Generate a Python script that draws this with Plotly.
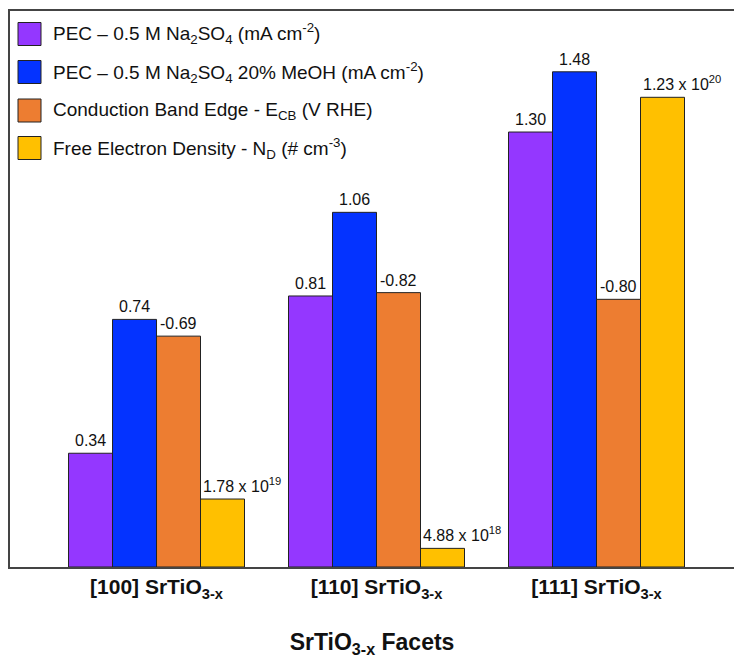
import plotly.graph_objects as go

# Facet categories and measured quantities
facets = ["[100] SrTiO<sub>3-x</sub>", "[110] SrTiO<sub>3-x</sub>", "[111] SrTiO<sub>3-x</sub>"]
pec_na2so4 = [0.34, 0.81, 1.30]          # mA cm-2
pec_meoh = [0.74, 1.06, 1.48]            # mA cm-2
cb_edge = [-0.69, -0.82, -0.80]          # V RHE
electron_density = [1.78e19, 4.88e18, 1.23e20]  # cm-3

series_names = [
    "PEC \u2013 0.5 M Na<sub>2</sub>SO<sub>4</sub> (mA cm<sup>-2</sup>)",
    "PEC \u2013 0.5 M Na<sub>2</sub>SO<sub>4</sub> 20% MeOH (mA cm<sup>-2</sup>)",
    "Conduction Band Edge - E<sub>CB</sub> (V RHE)",
    "Free Electron Density - N<sub>D</sub> (# cm<sup>-3</sup>)",
]
colors = ["#9437FF", "#0433FF", "#ED7D31", "#FFC000"]

W, H = 734, 658
L, R, T, B = 10, 0, 11, 91
PW, PH = W - L - R, H - T - B

def px(x):
    return (x - L) / PW

def py(y):
    return (H - B - y) / PH

Y_TOP = 1.6617
ND_TOP = 1.456e20

fig = go.Figure()
trace_specs = [
    (pec_na2so4, "y"),
    (pec_meoh, "y"),
    (cb_edge, "y3"),
    (electron_density, "y2"),
]
for k, (vals, yax) in enumerate(trace_specs):
    fig.add_trace(go.Bar(
        x=facets, y=vals, name=series_names[k], yaxis=yax,
        offsetgroup=str(k + 1),
        marker=dict(color=colors[k], line=dict(color="#222222", width=1)),
        showlegend=False,
    ))

def fmt_sci(v):
    exp = len(str(int(v))) - 1
    mant = v / 10 ** exp
    return f"{mant:.2f} x 10<sup>{exp}</sup>"

annotations = []
label_font = dict(family="Liberation Sans, Arial, sans-serif", size=16, color="#111111")
offsets = [-0.3, -0.1, 0.1, 0.3]
for i in range(len(facets)):
    for k, (vals, yax) in enumerate(trace_specs):
        v = vals[i]
        if k == 3:
            annotations.append(dict(
                x=i + 0.2, y=v, xref="x", yref=yax, text=fmt_sci(v),
                xanchor="left", yanchor="bottom", showarrow=False,
                font=label_font, xshift=0, yshift=2,
            ))
        else:
            annotations.append(dict(
                x=i + offsets[k], y=v, xref="x", yref=yax, text=f"{v:.2f}",
                xanchor="center", yanchor="bottom", showarrow=False,
                font=label_font, yshift=2,
            ))

# Legend drawn as swatches plus text in the upper-left corner
shapes = []
legend_font = dict(family="Liberation Sans, Arial, sans-serif", size=19, color="#111111")
row_y = [34, 72, 110.5, 148]
for k, cy in enumerate(row_y):
    shapes.append(dict(
        type="rect", xref="paper", yref="paper",
        x0=px(18), x1=px(41), y0=py(cy + 11.5), y1=py(cy - 11.5),
        fillcolor=colors[k], line=dict(color="#222222", width=1),
    ))
    annotations.append(dict(
        x=px(51), y=py(cy), xref="paper", yref="paper", text=series_names[k],
        xanchor="left", yanchor="middle", showarrow=False, font=legend_font,
    ))

fig.update_layout(
    width=W, height=H,
    margin=dict(l=L, r=R, t=T, b=B),
    paper_bgcolor="white", plot_bgcolor="white",
    barmode="group", bargap=0.2, bargroupgap=0,
    font=dict(family="Liberation Sans, Arial, sans-serif", color="#111111"),
    xaxis=dict(
        type="category", range=[-0.666, 2.625],
        showline=True, linecolor="#444444", linewidth=2, mirror=True,
        showgrid=False, ticks="",
        tickfont=dict(size=21, color="#111111", family="Liberation Sans, Arial, sans-serif", weight="bold"),
        title=dict(text="<b>SrTiO<sub>3-x</sub> Facets</b>", standoff=36,
                   font=dict(size=23, color="#111111")),
    ),
    yaxis=dict(range=[0, Y_TOP], showline=True, linecolor="#444444", linewidth=2,
               showgrid=False, showticklabels=False, ticks="", zeroline=False),
    yaxis2=dict(range=[0, ND_TOP], overlaying="y", visible=False),
    yaxis3=dict(range=[0, -Y_TOP], overlaying="y", visible=False),
    shapes=shapes,
    annotations=annotations,
)

fig.write_html("out.html")
